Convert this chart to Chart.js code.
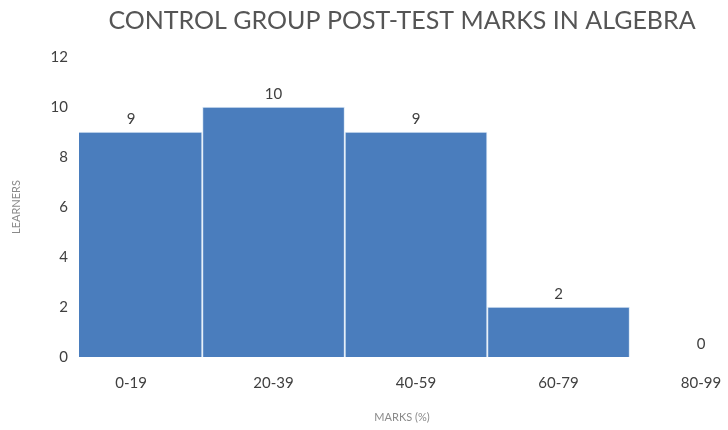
<!DOCTYPE html>
<html>
<head>
<meta charset="utf-8">
<script src="https://cdn.jsdelivr.net/npm/chart.js@4.4.1/dist/chart.umd.min.js"></script>
<style>
html,body{margin:0;padding:0;background:#fff;}
#wrap{width:728px;height:430px;position:relative;}
</style>
</head>
<body>
<div id="wrap"><canvas id="c"></canvas></div>
<script>
const categories = ["0-19", "20-39", "40-59", "60-79", "80-99"];
const learners = [9, 10, 9, 2, 0];
const yTicks = [0, 2, 4, 6, 8, 10, 12];
const titleText = "CONTROL GROUP POST-TEST MARKS IN ALGEBRA";
const xTitle = "MARKS (%)";
const yTitle = "LEARNERS";

const FONT = "Lato, 'Open Sans', sans-serif";

const valueLabels = {
  id: 'valueLabels',
  afterDatasetsDraw(chart) {
    const ctx = chart.ctx;
    const meta = chart.getDatasetMeta(0);
    ctx.save();
    ctx.font = "15px " + FONT;
    ctx.fillStyle = "#404040";
    ctx.textAlign = "center";
    ctx.textBaseline = "bottom";
    meta.data.forEach((bar, i) => {
      ctx.fillText(String(learners[i]), bar.x, bar.y - 5);
    });
    ctx.restore();
  }
};

new Chart(document.getElementById('c'), {
  type: 'bar',
  data: {
    datasets: [{
      data: learners.map((v, i) => ({x: i, y: v})),
      backgroundColor: '#4a7dbd',
      borderColor: '#dce9f6',
      borderWidth: 1,
      barThickness: 142
    }]
  },
  options: {
    responsive: true,
    maintainAspectRatio: false,
    animation: false,
    layout: {padding: {left: 0, right: 3, top: 0, bottom: 0}},
    plugins: {
      legend: {display: false},
      tooltip: {enabled: false},
      title: {
        display: true,
        text: titleText,
        fullSize: false,
        color: '#555555',
        font: {family: FONT, size: 25, weight: 'normal'},
        padding: {top: 6, bottom: 21}
      }
    },
    scales: {
      x: {
        type: 'linear',
        offset: false,
        min: -0.365,
        max: 4.168,
        grid: {display: false, drawTicks: false, offset: false},
        border: {display: false},
        afterBuildTicks: (s) => { s.ticks = categories.map((c, i) => ({value: i})); },
        afterFit: (s) => { s.height = 73; s.paddingLeft = 0; s.paddingRight = 0; },
        ticks: {
          autoSkip: false,
          maxRotation: 0,
          padding: 17,
          color: '#404040',
          font: {family: FONT, size: 15},
          callback: (v) => categories[v]
        },
        title: {
          display: true,
          text: xTitle,
          color: '#8a8a8a',
          font: {family: FONT, size: 11},
          padding: {top: 0, bottom: 6}
        }
      },
      y: {
        min: 0,
        max: 12,
        grid: {display: false, drawTicks: false},
        border: {display: false},
        afterBuildTicks: (s) => { s.ticks = yTicks.map(v => ({value: v})); },
        afterFit: (s) => { s.width = 79; },
        ticks: {
          padding: 11,
          color: '#404040',
          font: {family: FONT, size: 15}
        },
        title: {
          display: true,
          text: yTitle,
          color: '#8a8a8a',
          font: {family: FONT, size: 11},
          padding: {top: 10, bottom: 0}
        }
      }
    }
  },
  plugins: [valueLabels]
});
</script>
</body>
</html>
